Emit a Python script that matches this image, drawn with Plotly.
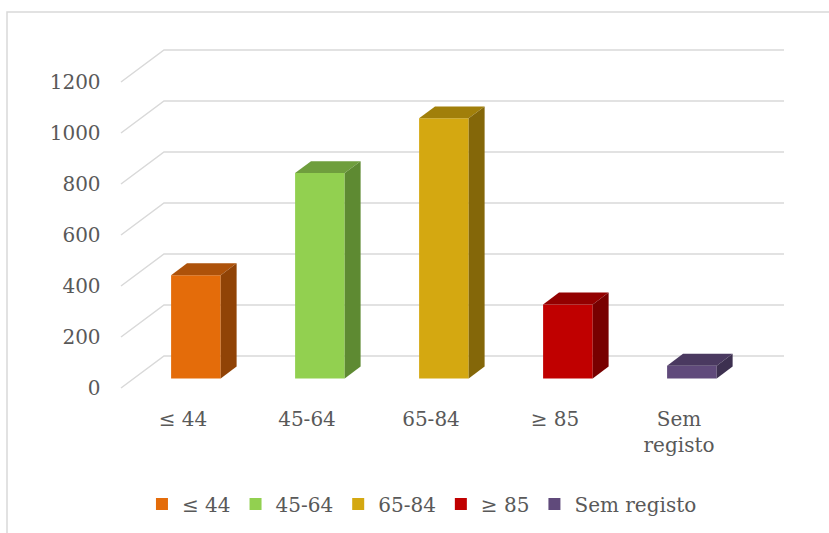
import plotly.graph_objects as go

# ---- data ----
categories = ["≤ 44", "45-64", "65-84", "≥ 85", "Sem registo"]
tick_text = ["≤ 44", "45-64", "65-84", "≥ 85", "Sem<br>registo"]
counts = [405, 805, 1020, 290, 50]
y_ticks = [0, 200, 400, 600, 800, 1000, 1200]

# ---- colours (front, top, side faces) ----
front_colors = ["#E46C0A", "#92D050", "#D4A811", "#C00000", "#604A7B"]
top_colors = ["#AD520A", "#6F9E3D", "#A17F0A", "#930000", "#4A3960"]
side_colors = ["#904306", "#5E8A32", "#846709", "#780000", "#3D3050"]

GRID = "#D9D9D9"
TEXT = "#595959"
FONT = "DejaVu Serif"
FS = 20

# ---- page geometry (pixels) ----
W, H = 829, 533
X0_PX = 121          # front floor edge, category -0.5
CAT_PX = 124         # pixels per category
Y0_PX = 388          # value 0 on front floor edge
UNIT_PX = 306 / 1200 # pixels per unit of value
DEPTH_PX = (43, 32)  # floor depth vector (right, up)
BAR_FRONT = 0.30     # bar front plane, fraction of depth
BAR_BACK = 0.67      # bar back plane, fraction of depth
BAR_W = 0.40

x_range = [-0.6, 4.95]
y_range = [-60, 1360]

ddx = DEPTH_PX[0] / CAT_PX
ddy = DEPTH_PX[1] / UNIT_PX

x_dom = [(X0_PX + (x_range[0] + 0.5) * CAT_PX) / W,
         (X0_PX + (x_range[1] + 0.5) * CAT_PX) / W]
y_dom = [1 - (Y0_PX - y_range[0] * UNIT_PX) / H,
         1 - (Y0_PX - y_range[1] * UNIT_PX) / H]

# bars live on an axis pair shifted into the depth of the floor
x2_range = [r - BAR_FRONT * ddx for r in x_range]
y2_range = [r - BAR_FRONT * ddy for r in y_range]
bdx = (BAR_BACK - BAR_FRONT) * ddx
bdy = (BAR_BACK - BAR_FRONT) * ddy

fig = go.Figure()

for i, (cat, v) in enumerate(zip(categories, counts)):
    fig.add_trace(go.Bar(
        x=[i], y=[v], name=cat, width=BAR_W,
        marker=dict(color=front_colors[i], line=dict(width=0)),
        xaxis="x2", yaxis="y2", hoverinfo="name+y",
    ))

shapes = []

# frame around the chart
shapes.append(dict(type="rect", xref="paper", yref="paper",
                   x0=7 / W, y0=1 - 12 / H, x1=1.05, y1=-0.05,
                   line=dict(color=GRID, width=1.5), layer="below"))

# floor/wall gridlines: diagonal on the side wall, horizontal on the back wall
for v in y_ticks:
    path = (f"M {-0.5},{v} L {-0.5 + ddx},{v + ddy} "
            f"L {len(categories) - 0.5 + ddx},{v + ddy}")
    shapes.append(dict(type="path", xref="x", yref="y", path=path,
                       line=dict(color=GRID, width=1.5), layer="below"))

# top and side faces of each bar
for i, v in enumerate(counts):
    l, r = i - BAR_W / 2, i + BAR_W / 2
    top = (f"M {l},{v} L {r},{v} L {r + bdx},{v + bdy} "
           f"L {l + bdx},{v + bdy} Z")
    side = (f"M {r},0 L {r},{v} L {r + bdx},{v + bdy} "
            f"L {r + bdx},{bdy} Z")
    shapes.append(dict(type="path", xref="x2", yref="y2", path=top,
                       fillcolor=top_colors[i], line=dict(width=0),
                       layer="above"))
    shapes.append(dict(type="path", xref="x2", yref="y2", path=side,
                       fillcolor=side_colors[i], line=dict(width=0),
                       layer="above"))

axis_common = dict(showgrid=False, zeroline=False, showline=False,
                   ticks="", fixedrange=True)

fig.update_layout(
    width=W, height=H,
    margin=dict(l=0, r=0, t=0, b=0),
    paper_bgcolor="white", plot_bgcolor="rgba(0,0,0,0)",
    font=dict(family=FONT, size=FS, color=TEXT),
    barmode="overlay",
    showlegend=True,
    legend=dict(orientation="h", x=0.509, xanchor="center",
                y=1 - 504 / H, yanchor="middle",
                font=dict(family=FONT, size=FS, color=TEXT),
                traceorder="normal", itemclick=False),
    xaxis=dict(domain=x_dom, range=x_range, tickmode="array",
               tickvals=list(range(len(categories))), ticktext=tick_text,
               ticklabelstandoff=2, **axis_common),
    yaxis=dict(domain=y_dom, range=y_range, tickmode="array",
               tickvals=y_ticks, ticktext=[str(t) for t in y_ticks],
               ticklabelstandoff=7, **axis_common),
    xaxis2=dict(range=x2_range, overlaying="x", visible=False,
                **axis_common),
    yaxis2=dict(range=y2_range, overlaying="y", visible=False,
                **axis_common),
    shapes=shapes,
)

fig.write_html("out.html")
